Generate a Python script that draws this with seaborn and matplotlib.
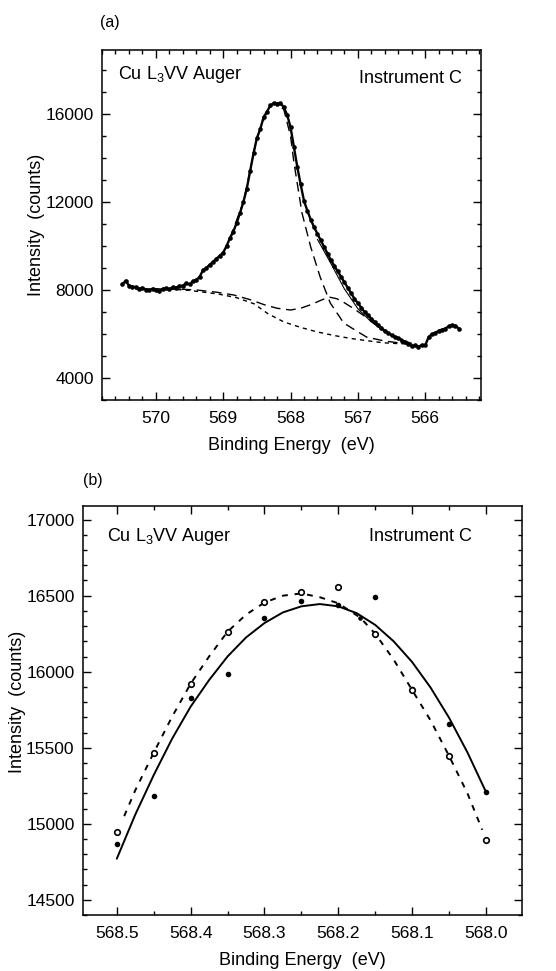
import numpy as np
import pandas as pd
import matplotlib
matplotlib.use("Agg")
import matplotlib.pyplot as plt
import seaborn as sns
from matplotlib.ticker import MultipleLocator, FormatStrFormatter

# ---- panel (a): Cu L3VV Auger spectrum, instrument C ----
energy_a = [570.50, 570.45, 570.40, 570.35, 570.30, 570.25, 570.20, 570.15, 570.10, 570.05,
            570.00, 569.95, 569.90, 569.85, 569.80, 569.75, 569.70, 569.65, 569.60, 569.55,
            569.50, 569.45, 569.40, 569.35, 569.30, 569.25, 569.20, 569.15, 569.10, 569.05,
            569.00, 568.95, 568.90, 568.85, 568.80, 568.75, 568.70, 568.65, 568.60, 568.55,
            568.50, 568.45, 568.40, 568.35, 568.30, 568.25, 568.20, 568.15, 568.10, 568.05,
            568.00, 567.95, 567.90, 567.85, 567.80, 567.75, 567.70, 567.65, 567.60, 567.55,
            567.50, 567.45, 567.40, 567.35, 567.30, 567.25, 567.20, 567.15, 567.10, 567.05,
            567.00, 566.95, 566.90, 566.85, 566.80, 566.75, 566.70, 566.65, 566.60, 566.55,
            566.50, 566.45, 566.40, 566.35, 566.30, 566.25, 566.20, 566.15, 566.10, 566.05,
            566.00, 565.95, 565.90, 565.85, 565.80, 565.75, 565.70, 565.65, 565.60, 565.55,
            565.50]
counts_a = [8250, 8420, 8200, 8150, 8130, 8050, 8100, 8020, 8000, 8060,
            8020, 7960, 8050, 8080, 8030, 8130, 8100, 8180, 8200, 8300,
            8250, 8400, 8450, 8600, 8900, 9000, 9150, 9280, 9420, 9560,
            9700, 10000, 10350, 10650, 11050, 11500, 12000, 12600, 13400, 14200,
            14900, 15300, 15850, 16100, 16380, 16480, 16470, 16490, 16300, 15950,
            15400, 14500, 13600, 12800, 12050, 11600, 11200, 10850, 10550, 10250,
            9950, 9650, 9350, 9100, 8850, 8600, 8350, 8100, 7850, 7600,
            7400, 7200, 7000, 6850, 6700, 6550, 6420, 6280, 6150, 6050,
            5950, 5870, 5800, 5700, 5620, 5550, 5450, 5480, 5420, 5500,
            5480, 5850, 6000, 6050, 6150, 6200, 6250, 6350, 6400, 6380,
            6250]

# main peak component (long dash)
main_e = [568.90, 568.70, 568.50, 568.35, 568.25, 568.20, 568.10, 568.00, 567.95, 567.83,
          567.70, 567.56, 567.41, 567.21, 567.00, 566.87, 566.60, 566.37, 566.25]
main_i = [10350, 12000, 14900, 16100, 16480, 16470, 16200, 15000, 13800, 11500,
          9950, 8590, 7410, 6500, 6100, 5860, 5680, 5590, 5570]

# satellite component on background (long dash)
sat_e = [570.30, 570.00, 569.72, 569.40, 569.10, 568.84, 568.60, 568.39, 568.20, 568.00,
         567.85, 567.70, 567.55, 567.43, 567.31, 567.20, 567.06, 566.82, 566.57, 566.33]
sat_i = [8060, 8050, 8050, 8000, 7900, 7770, 7560, 7330, 7170, 7090,
         7170, 7330, 7530, 7680, 7600, 7420, 7150, 6640, 6050, 5750]

# background (short dash)
bg_e = [570.30, 570.00, 569.82, 569.50, 569.08, 568.80, 568.54, 568.34, 568.10, 567.85,
        567.61, 567.35, 567.11, 566.85, 566.62, 566.37, 566.20]
bg_i = [8060, 8050, 8050, 7980, 7820, 7650, 7370, 6930, 6550, 6300,
        6100, 5930, 5800, 5690, 5600, 5560, 5550]

# total fit envelope (thin solid)
fit_e = [567.60, 567.40, 567.20, 567.00, 566.80, 566.60, 566.40, 566.20]
fit_i = [10300, 9200, 8050, 7150, 6550, 6100, 5780, 5580]

# ---- panel (b): peak region in detail ----
energy_b = [568.50, 568.45, 568.40, 568.35, 568.30, 568.25, 568.20, 568.15, 568.10, 568.05, 568.00]
filled_b = [14868, 15184, 15829, 15985, 16355, 16467, 16440, 16493, 15888, 15658, 15210]
open_b = [14947, 15467, 15921, 16263, 16460, 16526, 16559, 16250, 15880, 15447, 14895]
extra_e = [568.17]
extra_i = [16355]

solid_e = [568.500, 568.475, 568.450, 568.425, 568.400, 568.375, 568.350, 568.325, 568.300, 568.275,
           568.250, 568.225, 568.200, 568.175, 568.150, 568.125, 568.100, 568.075, 568.050, 568.025, 568.000]
solid_i = [14770, 15060, 15320, 15560, 15770, 15945, 16100, 16225, 16320, 16390,
           16430, 16445, 16430, 16385, 16308, 16200, 16064, 15896, 15698, 15469, 15210]

dash_e = [568.490, 568.475, 568.450, 568.425, 568.400, 568.375, 568.350, 568.325, 568.300, 568.275,
          568.250, 568.225, 568.200, 568.170, 568.150, 568.125, 568.100, 568.075, 568.050, 568.025, 568.005]
dash_i = [15050, 15220, 15467, 15705, 15921, 16100, 16263, 16375, 16455, 16500,
          16515, 16490, 16450, 16355, 16250, 16080, 15880, 15680, 15447, 15200, 14960]

sns.set_theme(style="ticks")
plt.rcParams["font.family"] = ["Liberation Sans", "DejaVu Sans"]
plt.rcParams["mathtext.default"] = "regular"
plt.rcParams["text.color"] = "black"
plt.rcParams["axes.labelcolor"] = "black"

fig = plt.figure(figsize=(5.56, 9.71), dpi=100)
ax1 = fig.add_axes([0.1835, 0.588, 0.6817, 0.3605])
ax2 = fig.add_axes([0.149, 0.0577, 0.790, 0.4212])

fs_tick = 12.5
fs_lab = 13

# panel (a)
df_a = pd.DataFrame({"E": energy_a, "I": counts_a})
sns.lineplot(data=pd.DataFrame({"E": bg_e, "I": bg_i}), x="E", y="I", ax=ax1, sort=False,
             estimator=None, color="black", lw=1.0, linestyle=(0, (3, 3)))
sns.lineplot(data=pd.DataFrame({"E": sat_e, "I": sat_i}), x="E", y="I", ax=ax1, sort=False,
             estimator=None, color="black", lw=1.0, linestyle=(0, (7, 4)))
sns.lineplot(data=pd.DataFrame({"E": main_e, "I": main_i}), x="E", y="I", ax=ax1, sort=False,
             estimator=None, color="black", lw=1.0, linestyle=(0, (7, 4)))
sns.lineplot(data=pd.DataFrame({"E": fit_e, "I": fit_i}), x="E", y="I", ax=ax1, sort=False,
             estimator=None, color="black", lw=0.8)
sns.lineplot(data=df_a, x="E", y="I", ax=ax1, sort=False, estimator=None, color="black", lw=1.7)
sns.scatterplot(data=df_a, x="E", y="I", ax=ax1, color="black", s=11, edgecolor="black", linewidth=0)

ax1.set_xlim(570.8, 565.17)
ax1.set_ylim(3000, 18900)
ax1.xaxis.set_major_locator(MultipleLocator(1))
ax1.xaxis.set_minor_locator(MultipleLocator(0.2))
ax1.yaxis.set_major_locator(MultipleLocator(4000))
ax1.yaxis.set_minor_locator(MultipleLocator(1000))
ax1.set_xlabel("Binding Energy  (eV)", fontsize=fs_lab, labelpad=8)
ax1.set_ylabel("Intensity  (counts)", fontsize=fs_lab)
ax1.yaxis.set_label_coords(-0.15, 0.5)
ax1.text(0.042, 0.93, "Cu L$_3$VV Auger", transform=ax1.transAxes, fontsize=fs_lab, va="center")
ax1.text(0.95, 0.92, "Instrument C", transform=ax1.transAxes, fontsize=fs_lab, va="center", ha="right")
fig.text(100 / 556, 1 - 22 / 971, "(a)", fontsize=11.5, va="center")

# panel (b)
sns.lineplot(data=pd.DataFrame({"E": solid_e, "I": solid_i}), x="E", y="I", ax=ax2, sort=False,
             estimator=None, color="black", lw=1.4)
sns.lineplot(data=pd.DataFrame({"E": dash_e, "I": dash_i}), x="E", y="I", ax=ax2, sort=False,
             estimator=None, color="black", lw=1.4, linestyle=(0, (3, 3.5)))
sns.scatterplot(x=energy_b, y=filled_b, ax=ax2, color="black", s=16, linewidth=0, zorder=5)
sns.scatterplot(x=extra_e, y=extra_i, ax=ax2, color="black", s=11, linewidth=0, zorder=5)
sns.scatterplot(x=energy_b, y=open_b, ax=ax2, facecolor="white", edgecolor="black", s=16,
                linewidth=1.2, zorder=6)

ax2.set_xlim(568.546, 567.951)
ax2.set_ylim(14400, 17090)
ax2.xaxis.set_major_locator(MultipleLocator(0.1))
ax2.xaxis.set_minor_locator(MultipleLocator(0.05))
ax2.yaxis.set_major_locator(MultipleLocator(500))
ax2.yaxis.set_minor_locator(MultipleLocator(100))
ax2.set_xlabel("Binding Energy  (eV)", fontsize=fs_lab, labelpad=8)
ax2.set_ylabel("Intensity  (counts)", fontsize=fs_lab)
ax2.yaxis.set_label_coords(-0.13, 0.52)
ax2.text(0.055, 0.925, "Cu L$_3$VV Auger", transform=ax2.transAxes, fontsize=fs_lab, va="center")
ax2.text(0.886, 0.925, "Instrument C", transform=ax2.transAxes, fontsize=fs_lab, va="center", ha="right")
fig.text(83 / 556, 1 - 481 / 971, "(b)", fontsize=11.5, va="center")

for ax in (ax1, ax2):
    for sp in ax.spines.values():
        sp.set_visible(True)
        sp.set_linewidth(1.1)
        sp.set_color("black")
    ax.xaxis.set_ticks_position("both")
    ax.yaxis.set_ticks_position("both")
    ax.tick_params(which="both", direction="in", colors="black", labelsize=fs_tick, width=1.0)
    ax.tick_params(which="major", length=6)
    ax.tick_params(which="minor", length=3)
    ax.tick_params(axis="x", which="major", pad=8)
    ax.tick_params(axis="y", which="major", pad=6)
    ax.grid(False)
ax1.yaxis.set_major_formatter(FormatStrFormatter("%d"))
ax2.yaxis.set_major_formatter(FormatStrFormatter("%d"))
ax1.xaxis.set_major_formatter(FormatStrFormatter("%d"))
ax2.xaxis.set_major_formatter(FormatStrFormatter("%.1f"))

fig.savefig("out.png", dpi=100)
